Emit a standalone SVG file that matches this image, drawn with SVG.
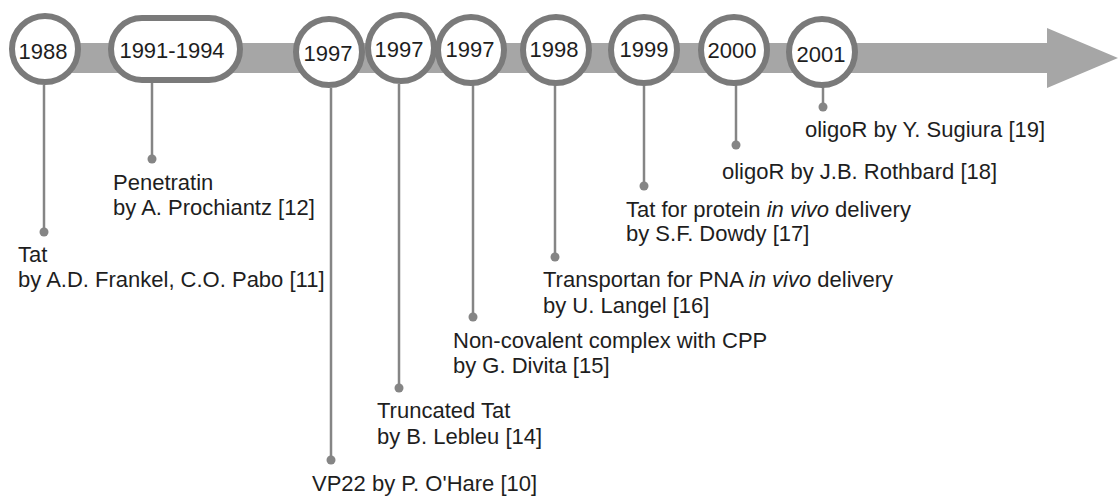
<svg xmlns="http://www.w3.org/2000/svg" width="1119" height="499" viewBox="0 0 1119 499">
<style>
.bg{fill:#ffffff}
.band{fill:#a6a6a6}
.node{fill:#ffffff;stroke:#7a7a7a;stroke-width:6}
.stem{stroke:#858585;stroke-width:2.5;fill:none}
.dot{fill:#858585}
text{font-family:"Liberation Sans",Arial,sans-serif;font-size:22px;fill:#1e1e1e}
.yr{text-anchor:middle}
</style>
<rect class="bg" x="0" y="0" width="1119" height="499"/>
<g id="timeline-arrow">
<rect class="band" x="20" y="43" width="1030" height="30"/>
<polygon class="band" points="1047,28 1118,58 1047,88"/>
</g>
<g id="connectors">
<line class="stem" x1="44" y1="85" x2="44" y2="232"/><circle class="dot" cx="44" cy="232" r="4.5"/>
<line class="stem" x1="152" y1="83" x2="152" y2="159"/><circle class="dot" cx="152" cy="159" r="4.5"/>
<line class="stem" x1="331" y1="88" x2="331" y2="460"/><circle class="dot" cx="331" cy="460" r="4.5"/>
<line class="stem" x1="399" y1="84" x2="399" y2="388"/><circle class="dot" cx="399" cy="388" r="4.5"/>
<line class="stem" x1="473" y1="85" x2="473" y2="317"/><circle class="dot" cx="473" cy="317" r="4.5"/>
<line class="stem" x1="555" y1="85" x2="555" y2="257"/><circle class="dot" cx="555" cy="257" r="4.5"/>
<line class="stem" x1="644" y1="85" x2="644" y2="186"/><circle class="dot" cx="644" cy="186" r="4.5"/>
<line class="stem" x1="736" y1="85" x2="736" y2="145"/><circle class="dot" cx="736" cy="145" r="4.5"/>
<line class="stem" x1="823" y1="87" x2="823" y2="107"/><circle class="dot" cx="823" cy="107" r="4.5"/>
</g>
<g id="n1988"><circle class="node" cx="45" cy="49" r="33"/><text class="yr" x="43" y="59">1988</text></g>
<g id="n1991"><rect class="node" x="111" y="18" width="129" height="62" rx="31"/><text class="yr" x="172" y="58">1991-1994</text></g>
<g id="n1997a"><circle class="node" cx="329" cy="52" r="33"/><text class="yr" x="328" y="61">1997</text></g>
<g id="n1997b"><circle class="node" cx="401" cy="48" r="33"/><text class="yr" x="399" y="57">1997</text></g>
<g id="n1997c"><circle class="node" cx="471" cy="50" r="33"/><text class="yr" x="470" y="57">1997</text></g>
<g id="n1998"><circle class="node" cx="556" cy="50" r="33"/><text class="yr" x="554" y="57">1998</text></g>
<g id="n1999"><circle class="node" cx="644" cy="50" r="33"/><text class="yr" x="644" y="57">1999</text></g>
<g id="n2000"><circle class="node" cx="734" cy="50" r="33"/><text class="yr" x="732" y="58">2000</text></g>
<g id="n2001"><circle class="node" cx="822" cy="52" r="33"/><text class="yr" x="821" y="62">2001</text></g>
<g id="labels">
<text x="18" y="262">Tat</text>
<text x="18" y="287">by A.D. Frankel, C.O. Pabo [11]</text>
<text x="113" y="190">Penetratin</text>
<text x="113" y="215">by A. Prochiantz [12]</text>
<text x="312" y="491">VP22 by P. O'Hare [10]</text>
<text x="377" y="418">Truncated Tat</text>
<text x="377" y="444">by B. Lebleu [14]</text>
<text x="453" y="348">Non-covalent complex with CPP</text>
<text x="453" y="373">by G. Divita [15]</text>
<text x="543" y="287">Transportan for PNA <tspan font-style="italic">in vivo</tspan> delivery</text>
<text x="543" y="313">by U. Langel [16]</text>
<text x="626" y="217">Tat for protein <tspan font-style="italic">in vivo</tspan> delivery</text>
<text x="626" y="241">by S.F. Dowdy [17]</text>
<text x="722" y="179">oligoR by J.B. Rothbard [18]</text>
<text x="805" y="137">oligoR by Y. Sugiura [19]</text>
</g>
</svg>
